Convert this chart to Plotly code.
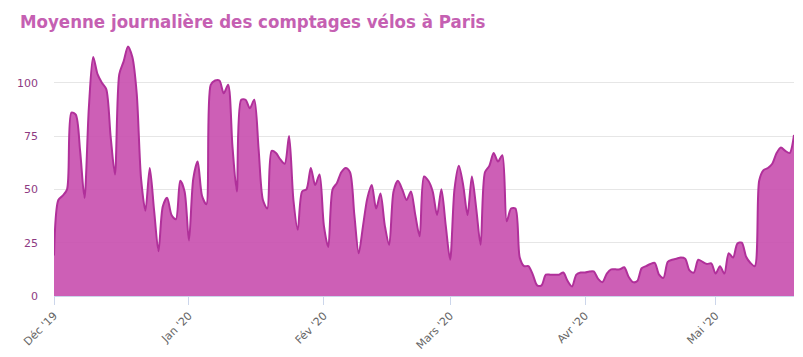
import datetime as dt
import plotly.graph_objects as go

start_date = "2019-12-01"
values = [
    19, 45, 47, 50, 86, 85, 68, 46, 88, 112,
    104, 100, 97, 75, 57, 104, 110, 117, 112, 95,
    55, 40, 60, 40, 21, 42, 46, 38, 36, 54,
    49, 26, 55, 63, 47, 43, 99, 101, 101, 95,
    99, 70, 49, 92, 92, 88, 92, 69, 45, 41,
    68, 67, 64, 62, 75, 45, 31, 49, 50, 60,
    52, 57, 33, 23, 50, 53, 58, 60, 58, 38,
    20, 33, 46, 52, 41, 48, 33, 24, 49, 54,
    50, 45, 49, 38, 28, 56, 54, 49, 38, 50,
    33, 17, 50, 61, 52, 38, 56, 41, 24, 58,
    61, 67, 63, 66, 35, 41, 41, 18, 14, 14,
    10, 5, 5, 10, 10, 10, 10, 11, 7, 4.5,
    10, 11, 11, 11.5, 11.5, 8, 6.5, 10.5, 12.5, 12.5,
    12.5, 13.5, 9, 6.5, 7, 13, 14, 15, 15.5, 10,
    8.5, 16, 17, 17.5, 18, 17.5, 12, 11, 17, 16,
    15, 15.3, 10.5, 14, 10.5, 20, 18, 24.6, 25, 18.4,
    15.5, 14, 54, 59, 60, 62, 67, 69.6, 68, 67,
    75.5,
]
d0 = dt.date.fromisoformat(start_date)
dates = [d0 + dt.timedelta(days=i) for i in range(len(values))]

tick_dates = ["2019-12-01", "2020-01-01", "2020-02-01", "2020-03-01", "2020-04-01", "2020-05-01"]
tick_labels = ["Déc '19", "Jan '20", "Fév '20", "Mars '20", "Avr '20", "Mai '20"]
y_ticks = [0, 25, 50, 75, 100]

title = "Moyenne journalière des comptages vélos à Paris"

fig = go.Figure()
fig.add_trace(go.Scatter(
    x=dates, y=values, mode="lines",
    line=dict(color="#B0309A", width=2, shape="spline", smoothing=0.8),
    fill="tozeroy", fillcolor="rgba(200,78,174,0.9)",
    hoverinfo="x+y",
))

fig.update_layout(
    width=803, height=357,
    margin=dict(l=54, r=9, t=40, b=61),
    paper_bgcolor="white", plot_bgcolor="white",
    showlegend=False,
    title=dict(
        text="<b>" + title + "</b>",
        x=20 / 803, xanchor="left", y=1 - 22 / 357, yanchor="middle",
        font=dict(family="DejaVu Sans Condensed, sans-serif",
                  size=18.5, color="#C560B2"),
    ),
    xaxis=dict(
        range=[dates[0], dates[-1]],
        tickvals=tick_dates, ticktext=tick_labels,
        tickangle=-45, tickfont=dict(family="DejaVu Sans, sans-serif", size=11, color="#666666"),
        showgrid=False, showline=True, linecolor="#CCD6EB", linewidth=1,
        ticks="outside", ticklen=8, tickcolor="#CCD6EB",
        zeroline=False, automargin=False,
    ),
    yaxis=dict(
        range=[0, 120], tickvals=y_ticks,
        tickfont=dict(family="DejaVu Sans, sans-serif", size=11, color="#8E3A82"),
        showgrid=True, gridcolor="#E6E6E6", gridwidth=1,
        zeroline=False, showline=False, ticks="",
        ticklabelstandoff=15, automargin=False,
    ),
)

fig.write_html("out.html")
